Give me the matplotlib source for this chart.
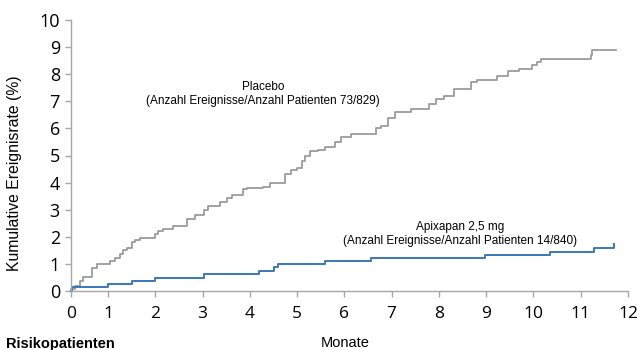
import numpy as np
import matplotlib
matplotlib.use("Agg")
import matplotlib.pyplot as plt

# ---- data (months, cumulative event rate %) ----
placebo_t = [0.0, 0.11, 0.24, 0.32, 0.57, 0.70, 1.04, 1.15, 1.25, 1.32, 1.40, 1.51, 1.57, 1.68,
             2.00, 2.06, 2.17, 2.38, 2.67, 2.84, 3.03, 3.12, 3.37, 3.52, 3.63, 3.86, 3.94,
             4.28, 4.43, 4.75, 4.86, 5.00, 5.11, 5.17, 5.28, 5.45, 5.60, 5.81, 5.92, 6.15,
             6.66, 6.78, 6.93, 7.08, 7.40, 7.78, 7.93, 8.10, 8.31, 8.67, 8.80, 9.22, 9.47,
             9.69, 9.96, 10.07, 10.15, 11.21, 11.23, 11.74]
placebo_y = [0.07, 0.20, 0.37, 0.50, 0.85, 1.00, 1.10, 1.20, 1.35, 1.50, 1.60, 1.80, 1.90, 1.95,
             2.10, 2.20, 2.30, 2.40, 2.65, 2.80, 3.00, 3.15, 3.30, 3.45, 3.55, 3.75, 3.80,
             3.85, 4.00, 4.30, 4.45, 4.55, 4.80, 5.00, 5.15, 5.20, 5.30, 5.50, 5.70, 5.80,
             6.00, 6.10, 6.40, 6.60, 6.70, 6.90, 7.10, 7.20, 7.45, 7.70, 7.80, 7.95, 8.10,
             8.20, 8.35, 8.45, 8.55, 8.70, 8.90, 8.90]

apix_t = [0.0, 0.02, 1.00, 1.51, 2.00, 3.03, 4.20, 4.52, 4.60, 5.58, 6.57, 8.97, 10.36, 11.28, 11.70]
apix_y = [0.0, 0.13, 0.26, 0.37, 0.49, 0.63, 0.75, 0.90, 0.98, 1.10, 1.23, 1.33, 1.45, 1.57, 1.73]

x_ticks = list(range(0, 13))
y_ticks = list(range(0, 11))

placebo_label = "Placebo\n(Anzahl Ereignisse/Anzahl Patienten 73/829)"
apix_label = "Apixapan 2,5 mg\n(Anzahl Ereignisse/Anzahl Patienten 14/840)"

# ---- figure ----
W, H = 637, 350
fig = plt.figure(figsize=(W / 100, H / 100), dpi=100)
L, R, B, T = 71, 628, 291, 20
ax = fig.add_axes([L / W, 1 - B / H, (R - L) / W, (B - T) / H])

# first month is drawn narrower than the others, as in the reference
r = 37 / 47.2
def fwd(x):
    x = np.asarray(x, dtype=float)
    return np.where(x < 1, x * r, x - 1 + r)
def inv(y):
    y = np.asarray(y, dtype=float)
    return np.where(y < r, y / r, y + 1 - r)
ax.set_xscale('function', functions=(fwd, inv))

ax.step(placebo_t, placebo_y, where='post', color='#9b9b9b', lw=1.3, clip_on=False)
ax.step(apix_t, apix_y, where='post', color='#3a78b5', lw=1.4, clip_on=False)

ax.set_xlim(0, 12)
ax.set_ylim(0, 10)
ax.set_xticks(x_ticks)
ax.set_yticks(y_ticks)
ax.set_xticklabels([str(v) for v in x_ticks])
ax.set_yticklabels([str(v) for v in y_ticks])
ax.minorticks_off()

for s in ['top', 'right']:
    ax.spines[s].set_visible(False)
for s in ['left', 'bottom']:
    ax.spines[s].set_color('#a6a6a6')
    ax.spines[s].set_linewidth(1.0)
ax.tick_params(axis='both', colors='#a6a6a6', labelcolor='black', length=4, width=1.0)
ax.tick_params(axis='y', pad=4, labelsize=13)
ax.tick_params(axis='x', pad=7, labelsize=12.5)
for lab in ax.get_xticklabels() + ax.get_yticklabels():
    lab.set_fontfamily('Open Sans')
    lab.set_fontweight('medium')

fig.text(15 / W, 1 - 173 / H, "Kumulative Ereignisrate (%)", rotation=90,
         ha='center', va='center', fontsize=11.3, family='Liberation Sans')

fig.text(263 / W, 1 - 94 / H, placebo_label, ha='center', va='center',
         fontsize=8.5, family='Liberation Sans', linespacing=1.25)
fig.text(460 / W, 1 - 234 / H, apix_label, ha='center', va='center',
         fontsize=8.5, family='Liberation Sans', linespacing=1.25)

fig.text(345 / W, 1 - 336 / H, "Monate", ha='center', va='top',
         fontsize=10.5, family='Liberation Sans')
fig.text(6 / W, 1 - 337 / H, "Risikopatienten", ha='left', va='top',
         fontsize=10.5, family='Liberation Sans', fontweight='bold')

fig.savefig("out.png", dpi=100)
